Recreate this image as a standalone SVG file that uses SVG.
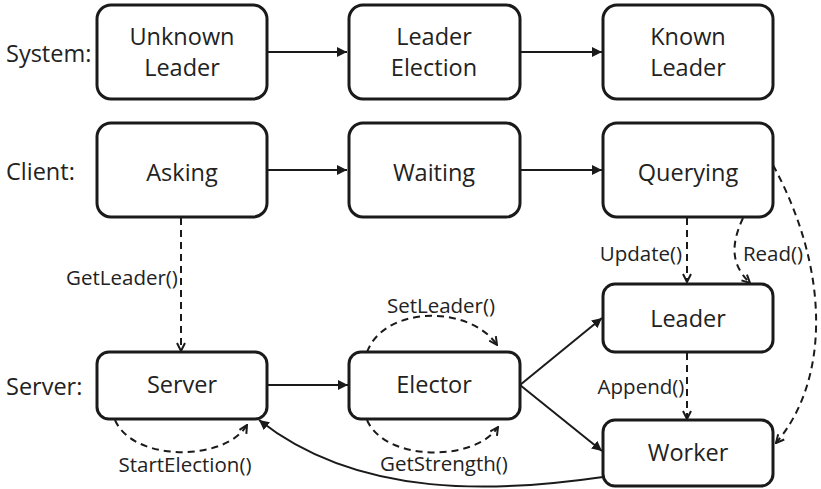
<svg xmlns="http://www.w3.org/2000/svg" width="821" height="489" viewBox="0 0 821 489">
  <style>
    .box { fill: #ffffff; stroke: #1a1a1a; stroke-width: 3; }
    .node-text { font-family: "Open Sans", "Noto Sans", "DejaVu Sans", sans-serif; font-size: 23.5px; fill: #222222; text-anchor: middle; }
    .row-text { font-family: "Open Sans", "Noto Sans", "DejaVu Sans", sans-serif; font-size: 23.5px; fill: #222222; }
    .edge-text { font-family: "Open Sans", "Noto Sans", "DejaVu Sans", sans-serif; font-size: 20.5px; fill: #222222; text-anchor: middle; }
    .solid { fill: none; stroke: #1a1a1a; stroke-width: 2; marker-end: url(#head-solid); }
    .dashed { fill: none; stroke: #1a1a1a; stroke-width: 2; stroke-dasharray: 7 5; marker-end: url(#head-open); }
  </style>
  <defs>
    <marker id="head-solid" viewBox="0 0 10 10" refX="10" refY="5" markerWidth="5" markerHeight="5" orient="auto" markerUnits="strokeWidth">
      <path d="M0,0 L10,5 L0,10 Z" fill="#1a1a1a"/>
    </marker>
    <marker id="head-open" viewBox="0 0 10 10" refX="9" refY="5" markerWidth="5" markerHeight="5" orient="auto" markerUnits="strokeWidth">
      <path d="M1,1 L9,5 L1,9" fill="none" stroke="#1a1a1a" stroke-width="2"/>
    </marker>
  </defs>
  <rect width="821" height="489" fill="#ffffff"/>

  <!-- row labels -->
  <text class="row-text" x="6" y="62">System:</text>
  <text class="row-text" x="6" y="180">Client:</text>
  <text class="row-text" x="6" y="395">Server:</text>

  <!-- connectors -->
  <g id="connectors">
    <path class="solid" d="M267,52 L347,52"/>
    <path class="solid" d="M520,52 L602,52"/>
    <path class="solid" d="M267,170 L347,170"/>
    <path class="solid" d="M520,170 L602,170"/>
    <path class="solid" d="M267,385 L348,385"/>
    <path class="solid" d="M520,385 L602,318"/>
    <path class="solid" d="M520,385 L602,451"/>
    <path class="solid" d="M603,477 C500,492 360,500 259,420"/>

    <path class="dashed" d="M181,218 L181,351"/>
    <path class="dashed" d="M687,218 L687,282"/>
    <path class="dashed" d="M743,218 C733,240 728,262 750,283"/>
    <path class="dashed" d="M773,165 C830,270 830,380 776,443"/>
    <path class="dashed" d="M687,353 L687,419"/>
    <path class="dashed" d="M367,352 C385,305 470,305 497,345"/>
    <path class="dashed" d="M367,420 C385,462 475,462 498,427"/>
    <path class="dashed" d="M115,420 C133,462 225,462 247,425"/>

    <text class="edge-text" x="122" y="285">GetLeader()</text>
    <text class="edge-text" x="641" y="261">Update()</text>
    <text class="edge-text" x="773" y="261">Read()</text>
    <text class="edge-text" x="441" y="313">SetLeader()</text>
    <text class="edge-text" x="641" y="394">Append()</text>
    <text class="edge-text" x="185" y="472">StartElection()</text>
    <text class="edge-text" x="444" y="471">GetStrength()</text>
  </g>

  <!-- system row -->
  <g id="unknown-leader">
    <rect class="box" x="97" y="5" width="170" height="94" rx="14"/>
    <text class="node-text" x="182" y="45">Unknown</text>
    <text class="node-text" x="182" y="76">Leader</text>
  </g>
  <g id="leader-election">
    <rect class="box" x="349" y="5" width="171" height="94" rx="14"/>
    <text class="node-text" x="434" y="45">Leader</text>
    <text class="node-text" x="434" y="76">Election</text>
  </g>
  <g id="known-leader">
    <rect class="box" x="603" y="5" width="170" height="94" rx="14"/>
    <text class="node-text" x="688" y="45">Known</text>
    <text class="node-text" x="688" y="76">Leader</text>
  </g>

  <!-- client row -->
  <g id="asking">
    <rect class="box" x="97" y="123" width="170" height="94" rx="14"/>
    <text class="node-text" x="182" y="181">Asking</text>
  </g>
  <g id="waiting">
    <rect class="box" x="349" y="123" width="171" height="94" rx="14"/>
    <text class="node-text" x="434" y="181">Waiting</text>
  </g>
  <g id="querying">
    <rect class="box" x="603" y="123" width="170" height="94" rx="14"/>
    <text class="node-text" x="688" y="181">Querying</text>
  </g>

  <!-- server row -->
  <g id="server">
    <rect class="box" x="97" y="352" width="170" height="67" rx="12"/>
    <text class="node-text" x="182" y="393">Server</text>
  </g>
  <g id="elector">
    <rect class="box" x="349" y="352" width="171" height="67" rx="12"/>
    <text class="node-text" x="434" y="393">Elector</text>
  </g>
  <g id="leader">
    <rect class="box" x="603" y="284" width="170" height="68" rx="12"/>
    <text class="node-text" x="688" y="327">Leader</text>
  </g>
  <g id="worker">
    <rect class="box" x="603" y="420" width="170" height="66" rx="12"/>
    <text class="node-text" x="688" y="461">Worker</text>
  </g>
</svg>
